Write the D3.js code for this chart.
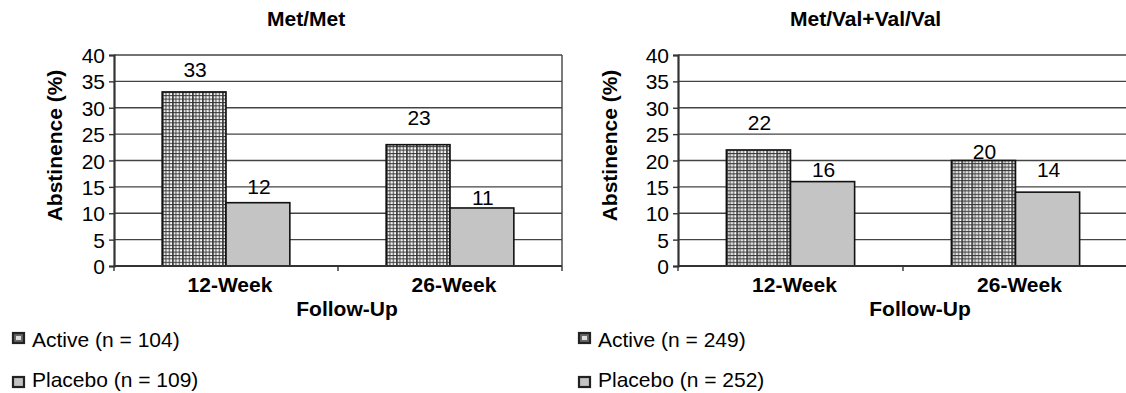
<!DOCTYPE html>
<html><head><meta charset="utf-8">
<script src="https://cdn.jsdelivr.net/npm/d3@7"></script>
<style>
html,body{margin:0;padding:0;background:#fff;}
svg text{font-family:"Liberation Sans",Arial,sans-serif;fill:#000;}
</style></head>
<body>
<svg id="chart" width="1126" height="393"></svg>
<script>
// ---- data ----
const categories = ["12-Week", "26-Week"];
const seriesNames = ["Active", "Placebo"];
const panelTitles = ["Met/Met", "Met/Val+Val/Val"];
const metMetActive = [33, 23];
const metMetPlacebo = [12, 11];
const valActive = [22, 20];
const valPlacebo = [16, 14];
const metMetLegend = ["Active (n = 104)", "Placebo (n = 109)"];
const valLegend = ["Active (n = 249)", "Placebo (n = 252)"];
const yTicks = [0, 5, 10, 15, 20, 25, 30, 35, 40];
const yTitle = "Abstinence (%)";
const xTitle = "Follow-Up";

// ---- layout (not data) ----
const panels = [
  {title: panelTitles[0], active: metMetActive, placebo: metMetPlacebo, legend: metMetLegend,
   x0: 114, x1: 562, titleX: 267, yTitleX: 55, xTitleX: 347, legendX: 12,
   gaps: [[15, 9], [20, 3]]},
  {title: panelTitles[1], active: valActive, placebo: valPlacebo, legend: valLegend,
   x0: 678, x1: 1128, titleX: 790, yTitleX: 610, xTitleX: 920, legendX: 578,
   gaps: [[20, 5], [2, 15]]}
];
const yTop = 55, yBot = 266;
const FS = 21;

const svg = d3.select("#chart");
const defs = svg.append("defs");
const pat = defs.append("pattern").attr("id", "grid").attr("patternUnits", "userSpaceOnUse")
  .attr("width", 10).attr("height", 3.4).attr("x", 0).attr("y", 0);
pat.append("rect").attr("width", 10).attr("height", 3.4).attr("fill", "#fff");
pat.append("rect").attr("x", 0).attr("y", 0).attr("width", 1.6).attr("height", 3.4).attr("fill", "#222");
pat.append("rect").attr("x", 3.4).attr("y", 0).attr("width", 1).attr("height", 3.4).attr("fill", "#333");
pat.append("rect").attr("x", 6.7).attr("y", 0).attr("width", 1).attr("height", 3.4).attr("fill", "#333");
pat.append("rect").attr("x", 0).attr("y", 0).attr("width", 10).attr("height", 1).attr("fill", "#333");

const fills = ["url(#grid)", "#c4c4c4"];

const y = d3.scaleLinear().domain([0, 40]).range([yBot, yTop]);

panels.forEach(p => {
  const g = svg.append("g");
  const x = d3.scaleBand().domain(categories).range([p.x0, p.x1]).paddingInner(0.43).paddingOuter(0.215);
  const xs = d3.scaleBand().domain(seriesNames).range([0, x.bandwidth()]);

  // gridlines
  g.append("g").selectAll("line").data(yTicks.filter(t => t > 0)).join("line")
    .attr("x1", p.x0).attr("x2", p.x1).attr("y1", d => y(d)).attr("y2", d => y(d))
    .attr("stroke", "#444").attr("stroke-width", 1.4);
  // right border
  g.append("line").attr("x1", p.x1).attr("x2", p.x1).attr("y1", yTop).attr("y2", yBot)
    .attr("stroke", "#444").attr("stroke-width", 1.4);

  // bars
  const rows = categories.map((c, i) => ({c, vals: [p.active[i], p.placebo[i]], i}));
  const grp = g.append("g").selectAll("g").data(rows).join("g")
    .attr("transform", d => `translate(${x(d.c)},0)`);
  grp.selectAll("rect").data(d => d.vals.map((v, k) => ({v, k}))).join("rect")
    .attr("x", d => xs(seriesNames[d.k])).attr("width", xs.bandwidth())
    .attr("y", d => y(d.v)).attr("height", d => y(0) - y(d.v))
    .attr("fill", d => fills[d.k]).attr("stroke", "#111").attr("stroke-width", 1.6);
  grp.selectAll("text").data(d => d.vals.map((v, k) => ({v, k, i: d.i}))).join("text")
    .attr("x", d => xs(seriesNames[d.k]) + xs.bandwidth() / 2 + 1)
    .attr("y", d => y(d.v) - p.gaps[d.i][d.k])
    .attr("text-anchor", "middle").attr("font-size", FS).text(d => d.v);

  // y axis
  const ya = g.append("g").attr("transform", `translate(${p.x0},0)`)
    .call(d3.axisLeft(y).tickValues(yTicks).tickSize(5).tickPadding(4));
  ya.select(".domain").attr("stroke", "#333").attr("stroke-width", 2.2);
  ya.selectAll(".tick line").attr("stroke", "#333").attr("stroke-width", 1.4);
  ya.selectAll(".tick text").attr("font-size", FS).attr("font-family", "Liberation Sans, Arial, sans-serif").attr("fill", "#000").attr("dy", "0.36em");

  // x axis
  const xa = g.append("g").attr("transform", `translate(0,${yBot})`);
  xa.append("line").attr("x1", p.x0).attr("x2", p.x1).attr("stroke", "#333").attr("stroke-width", 2);
  const bounds = [p.x0, (p.x0 + p.x1) / 2, p.x1];
  xa.selectAll("line.tk").data(bounds).join("line").attr("class", "tk")
    .attr("x1", d => d).attr("x2", d => d).attr("y1", 0).attr("y2", 5)
    .attr("stroke", "#333").attr("stroke-width", 1.4);
  xa.selectAll("text").data(categories).join("text")
    .attr("x", d => x(d) + x.bandwidth() / 2 + 4).attr("y", 26)
    .attr("text-anchor", "middle").attr("font-size", FS).attr("font-weight", "bold").text(d => d);

  // titles
  g.append("text").attr("x", p.titleX).attr("y", 26).attr("font-size", FS).attr("font-weight", "bold").text(p.title);
  g.append("text").attr("transform", `translate(${p.yTitleX + 7},${(yTop + yBot) / 2 - 15}) rotate(-90)`)
    .attr("text-anchor", "middle").attr("font-size", FS).attr("font-weight", "bold").text(yTitle);
  g.append("text").attr("x", p.xTitleX).attr("y", 316).attr("text-anchor", "middle")
    .attr("font-size", FS).attr("font-weight", "bold").text(xTitle);

  // legend
  const lg = g.append("g").selectAll("g").data(p.legend).join("g")
    .attr("transform", (d, i) => `translate(${p.legendX},${[332, 372][i]})`);
  lg.append("rect").attr("x", 1).attr("y", (d, i) => [1, 5][i]).attr("width", 11).attr("height", 10)
    .attr("fill", (d, i) => i === 0 ? "#666" : "#c4c4c4").attr("stroke", "#222").attr("stroke-width", 2.2);
  lg.filter((d, i) => i === 0).append("rect").attr("x", 4).attr("y", 4).attr("width", 5).attr("height", 4).attr("fill", "#ddd");
  lg.append("text").attr("x", 20).attr("y", 15).attr("font-size", FS).text(d => d);
});
</script>
</body></html>
